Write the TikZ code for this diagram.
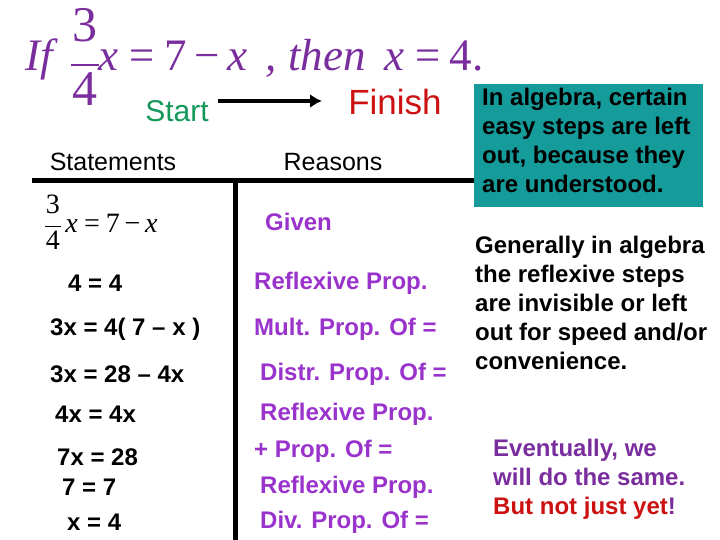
\documentclass[tikz,border=0pt]{standalone}
\usepackage{fontspec}
\usetikzlibrary{arrows.meta}
\setmainfont{Liberation Serif}
\setsansfont{Liberation Sans}
\definecolor{pur}{HTML}{9933CC}
\definecolor{tpur}{HTML}{7A2E9E}
\definecolor{teal2}{HTML}{169B9B}
\definecolor{grn}{HTML}{13985A}
\definecolor{rd}{HTML}{CC1111}
\newcommand\myfrac[2]{\begin{tabular}[c]{@{}c@{}}#1\\[-0.22em]\rule[0.3em]{0.55em}{0.045em}\\[-0.5em]#2\end{tabular}}
\tikzset{st/.style={font=\sffamily\bfseries\fontsize{24}{28}\selectfont,anchor=west,inner sep=0},
 rs/.style={st,text=pur},
 hd/.style={font=\sffamily\fontsize{25}{28}\selectfont,inner sep=0},
 side/.style={font=\sffamily\bfseries\fontsize{24}{29}\selectfont,align=left,inner sep=0,anchor=north west}}
\begin{document}
\begin{tikzpicture}[x=1pt,y=-1pt]
\useasboundingbox (0,0) rectangle (720,540);
\node[text=tpur,font=\fontsize{45}{45}\selectfont,inner sep=0,anchor=west] (title) at (25,64) {\itshape If\, \upshape{\fontsize{50}{50}\selectfont\myfrac{3}{4}}\itshape x\,=\,\upshape7\,−\,\itshape x\, , then\, x\,=\,\upshape4.};
\node[font=\sffamily\fontsize{30}{32}\selectfont,text=grn,inner sep=0] (start) at (177,111) {Start};
\node[font=\sffamily\fontsize{35}{36}\selectfont,text=rd,inner sep=0] (fin) at (395,102) {Finish};
\coordinate (a1) at (218,101); \coordinate (a2) at (322,101);
\draw[line width=4pt,-{Latex[length=12pt,width=14pt]}] (a1) -- (a2);
\node[hd] (sth) at (113,162) {Statements};
\node[hd] (rh) at (333,162) {Reasons};
\coordinate (h1) at (32,181); \coordinate (h2) at (476,181);
\coordinate (v1) at (235,181); \coordinate (v2) at (235,540);
\draw[line width=5pt] (h1) -- (h2);
\draw[line width=5pt] (v1) -- (v2);
\node[fill=teal2,minimum width=229pt,minimum height=123pt,inner sep=0] (box) at (588.5,145.5) {};
\node[side] (boxt) at (482,88) {In algebra, certain\\easy steps are left\\out, because they\\are understood.};
\node[font=\fontsize{28}{28}\selectfont,inner sep=0,anchor=west] (s1) at (45,226) {\myfrac{3}{4}\,\itshape x\,=\,\upshape 7\,−\,\itshape x};
\node[rs] (r1) at (265,222) {Given};
\node[st] (s2) at (68,283) {4 = 4};
\node[rs] (r2) at (254,283) {Reflexive Prop.};
\node[st] (s3) at (50,329) {3x = 4( 7 – x )};
\node[rs] (r3) at (254,329) {Mult. Prop. Of =};
\node[st] (s4) at (50,374) {3x = 28 – 4x};
\node[rs] (r4) at (260,374) {Distr. Prop. Of =};
\node[st] (s5) at (55,414) {4x = 4x};
\node[rs] (r5) at (260,414) {Reflexive Prop.};
\node[st] (s6) at (57,457) {7x = 28};
\node[rs] (r6) at (254,451) {+ Prop. Of =};
\node[st] (s7) at (62,487) {7 = 7};
\node[rs] (r7) at (260,487) {Reflexive Prop.};
\node[st] (s8) at (67,522) {x = 4};
\node[rs] (r8) at (260,522) {Div. Prop. Of =};
\node[side] (gen) at (475,236) {Generally in algebra\\the reflexive steps\\are invisible or left\\out for speed and/or\\convenience.};
\node[side,text=tpur] (ev) at (493,439) {Eventually, we\\will do the same.\\{\color{rd}But not just yet}!};
\end{tikzpicture}
\end{document}
